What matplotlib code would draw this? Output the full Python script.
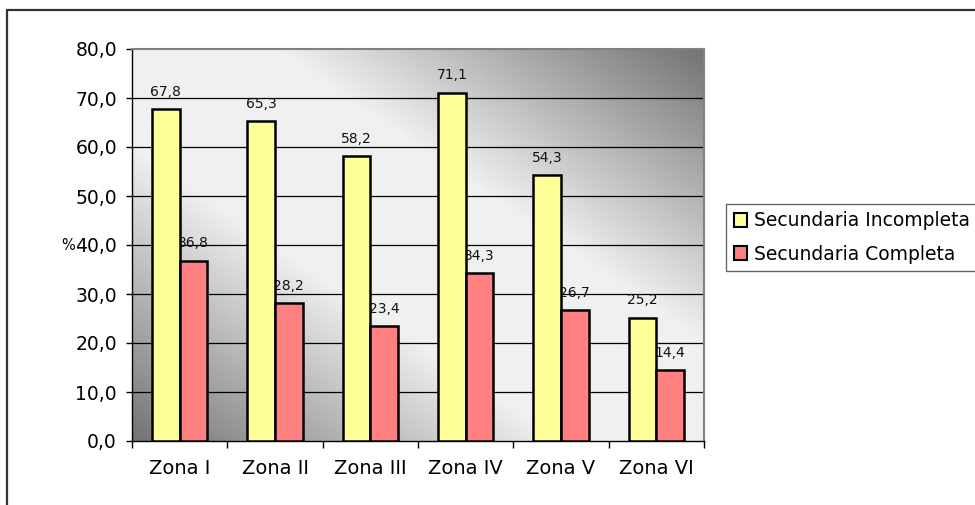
import numpy as np
import matplotlib.pyplot as plt
from matplotlib.patches import Patch, Rectangle
from matplotlib.ticker import FuncFormatter

zonas = ['Zona I', 'Zona II', 'Zona III', 'Zona IV', 'Zona V', 'Zona VI']
incompleta = [67.8, 65.3, 58.2, 71.1, 54.3, 25.2]
completa = [36.8, 28.2, 23.4, 34.3, 26.7, 14.4]
series_names = ['Secundaria Incompleta', 'Secundaria Completa']
yticks = [0, 10, 20, 30, 40, 50, 60, 70, 80]

W, H = 975, 505
fig = plt.figure(figsize=(W / 100, H / 100), dpi=100)
ax = fig.add_axes([132 / W, (H - 441) / H, 572 / W, 392 / H])

# diagonal gradient background: light along the top-left/bottom-right diagonal
gx, gy = np.meshgrid(np.linspace(0, 1, 400), np.linspace(0, 1, 300))
d = np.abs(gx + gy - 1)
t = np.clip((d - 0.25) / 0.75, 0, 1)
shade = (240 - 125 * t) / 255
ax.imshow(shade, cmap='gray', vmin=0, vmax=1, origin='lower', extent=[0, 1, 0, 1],
          transform=ax.transAxes, aspect='auto', zorder=0, interpolation='bilinear')

x = np.arange(len(zonas))
w = 0.29
b1 = ax.bar(x - w / 2, incompleta, w, color='#ffff99', edgecolor='black', linewidth=1.8, zorder=3)
b2 = ax.bar(x + w / 2, completa, w, color='#ff8080', edgecolor='black', linewidth=1.8, zorder=3)

def fmt(v):
    return f'{v:.1f}'.replace('.', ',')

for bars, vals in [(b1, incompleta), (b2, completa)]:
    for r, v in zip(bars, vals):
        ax.annotate(fmt(v), (r.get_x() + r.get_width() / 2, v), xytext=(0, 9.5),
                    textcoords='offset points', ha='center', va='baseline',
                    fontsize=10, color='#111111', zorder=2.5)

ax.set_xlim(-0.5, len(zonas) - 0.5)
ax.set_ylim(0, 80)
ax.set_yticks(yticks)
ax.yaxis.set_major_formatter(FuncFormatter(lambda v, p: fmt(v)))
ax.tick_params(axis='y', length=4.3, width=1, pad=6.5, labelsize=13.5)
for yv in yticks[1:-1]:
    ax.axhline(yv, color='black', linewidth=0.9, zorder=1)

ax.set_xticks(np.arange(-0.5, len(zonas)))
ax.set_xticklabels([])
ax.set_xticks(x, minor=True)
ax.set_xticklabels(zonas, minor=True)
ax.tick_params(axis='x', which='major', length=5, width=1)
ax.tick_params(axis='x', which='minor', length=0, pad=13, labelsize=14)

for s in ['top', 'right']:
    ax.spines[s].set_color('#808080')
    ax.spines[s].set_linewidth(1.5)
for s in ['left', 'bottom']:
    ax.spines[s].set_color('black')
    ax.spines[s].set_linewidth(1)

fig.text(61 / W, (H - 245) / H, '%', fontsize=10.5, ha='left', va='center')

handles = [Patch(facecolor='#ffff99', edgecolor='black', linewidth=1.5),
           Patch(facecolor='#ff8080', edgecolor='black', linewidth=1.5)]
leg = fig.legend(handles, series_names, loc='upper left',
                 bbox_to_anchor=(726 / W, (H - 204) / H), bbox_transform=fig.transFigure,
                 borderaxespad=0, fancybox=False, edgecolor='#666666', framealpha=1,
                 fontsize=13.5, handlelength=0.7, handleheight=0.7, handletextpad=0.4,
                 borderpad=0.4, labelspacing=0.75)
leg.get_frame().set_linewidth(1)

# outer chart border
fig.patches.append(Rectangle((7 / W, -0.1), 1.1, (H - 10) / H + 0.1, transform=fig.transFigure,
                             fill=False, edgecolor='#333333', linewidth=1.6))

fig.savefig('out.png', dpi=100)
